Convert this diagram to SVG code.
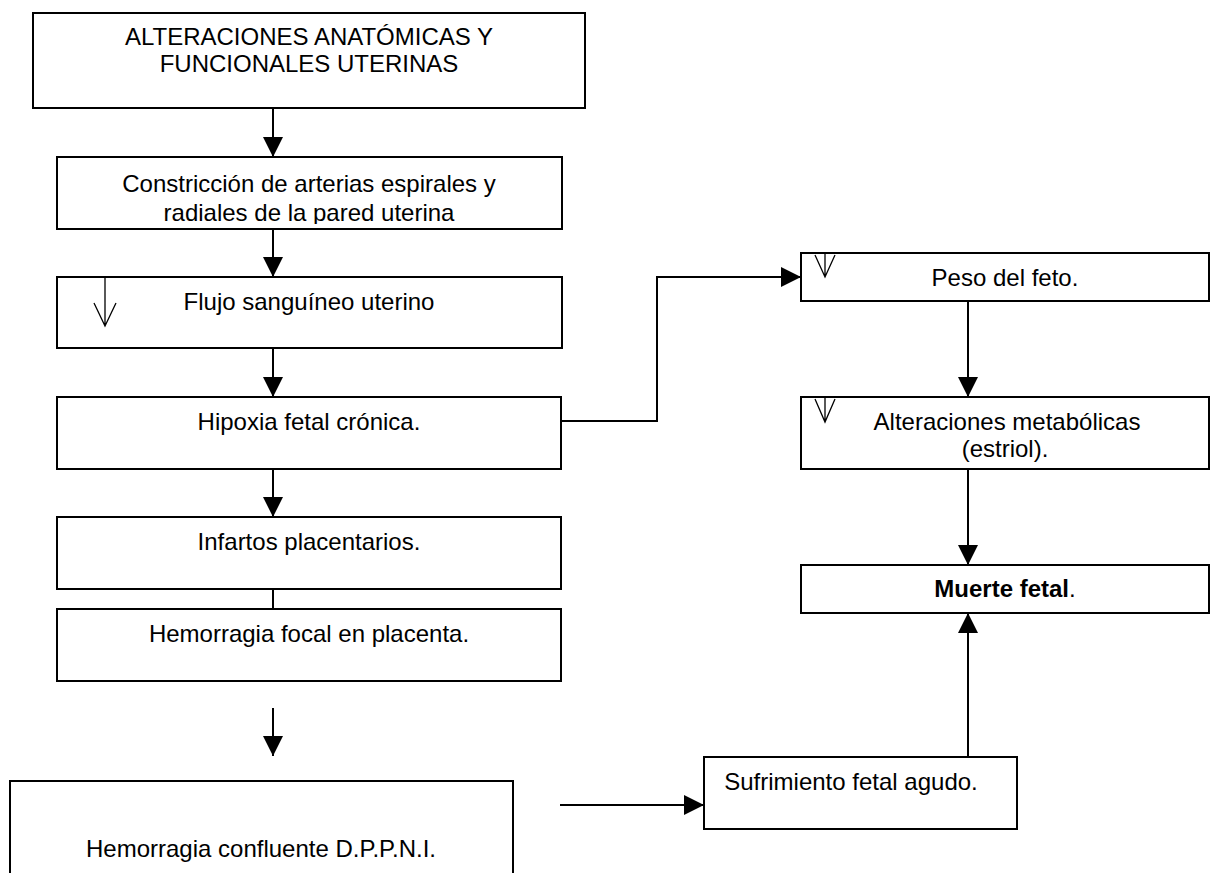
<svg xmlns="http://www.w3.org/2000/svg" width="1210" height="873" viewBox="0 0 1210 873">
  <style>
    .box { fill: #fff; stroke: #000; stroke-width: 2; }
    .ln { fill: none; stroke: #000; stroke-width: 2; }
    .thin { fill: none; stroke: #000; stroke-width: 1.3; }
    text { font-family: "Liberation Sans", Arial, sans-serif; font-size: 24px; fill: #000; text-anchor: middle; }
    .b { font-weight: bold; }
  </style>
  <defs>
    <marker id="ah" viewBox="0 0 20 20" refX="20" refY="10" markerWidth="20" markerHeight="20" markerUnits="userSpaceOnUse" orient="auto">
      <path d="M0,0 L20,10 L0,20 Z" fill="#000"/>
    </marker>
    <!-- the second line of this box is cut off by the box frame -->
    <clipPath id="clipB"><rect x="57" y="157" width="505" height="67"/></clipPath>
  </defs>
  <rect width="1210" height="873" fill="#fff"/>

  <g id="connectors">
    <line class="ln" x1="273" y1="108" x2="273" y2="157" marker-end="url(#ah)"/>
    <line class="ln" x1="273" y1="229" x2="273" y2="277" marker-end="url(#ah)"/>
    <line class="ln" x1="273" y1="348" x2="273" y2="397" marker-end="url(#ah)"/>
    <line class="ln" x1="273" y1="469" x2="273" y2="517" marker-end="url(#ah)"/>
    <line class="ln" x1="273" y1="589" x2="273" y2="609"/>
    <line class="ln" x1="273" y1="708" x2="273" y2="756" marker-end="url(#ah)"/>
    <polyline class="ln" points="561,421 657,421 657,277 801,277" marker-end="url(#ah)"/>
    <line class="ln" x1="968" y1="301" x2="968" y2="397" marker-end="url(#ah)"/>
    <line class="ln" x1="968" y1="469" x2="968" y2="565" marker-end="url(#ah)"/>
    <line class="ln" x1="968" y1="757" x2="968" y2="613" marker-end="url(#ah)"/>
    <line class="ln" x1="560" y1="805" x2="704" y2="805" marker-end="url(#ah)"/>
  </g>

  <g id="alteraciones-anatomicas">
    <rect class="box" x="33" y="13" width="552" height="95"/>
    <text x="309" y="45">ALTERACIONES ANATÓMICAS Y</text>
    <text x="309" y="72">FUNCIONALES UTERINAS</text>
  </g>

  <g id="constriccion">
    <rect class="box" x="57" y="157" width="505" height="72"/>
    <g clip-path="url(#clipB)">
      <text x="309" y="192">Constricción de arterias espirales y</text>
      <text x="309" y="221">radiales de la pared uterina</text>
    </g>
  </g>

  <g id="flujo">
    <rect class="box" x="57" y="277" width="505" height="71"/>
    <text x="309" y="310">Flujo sanguíneo uterino</text>
    <path class="thin" d="M105,277 V326 M94,303 L105,326 L116,303"/>
  </g>

  <g id="hipoxia">
    <rect class="box" x="57" y="397" width="504" height="72"/>
    <text x="309" y="430">Hipoxia fetal crónica.</text>
  </g>

  <g id="infartos">
    <rect class="box" x="57" y="517" width="504" height="72"/>
    <text x="309" y="550">Infartos placentarios.</text>
  </g>

  <g id="hemorragia-focal">
    <rect class="box" x="57" y="609" width="504" height="72"/>
    <text x="309" y="642">Hemorragia focal en placenta.</text>
  </g>

  <g id="hemorragia-confluente">
    <path class="box" d="M10,875 V781 H513 V875"/>
    <text x="261" y="857">Hemorragia confluente D.P.P.N.I.</text>
  </g>

  <g id="peso">
    <rect class="box" x="801" y="253" width="408" height="48"/>
    <text x="1005" y="286">Peso del feto.</text>
    <path class="thin" d="M825,253 V277 M815,255 L825,277 L835,255"/>
  </g>

  <g id="alteraciones-metabolicas">
    <rect class="box" x="801" y="397" width="408" height="72"/>
    <text x="1007" y="430">Alteraciones metabólicas</text>
    <text x="1005" y="457">(estriol).</text>
    <path class="thin" d="M825,397 V422 M815,399 L825,422 L835,399"/>
  </g>

  <g id="muerte-fetal">
    <rect class="box" x="801" y="565" width="408" height="48"/>
    <text x="1005" y="597"><tspan class="b">Muerte fetal</tspan>.</text>
  </g>

  <g id="sufrimiento">
    <rect class="box" x="704" y="757" width="313" height="72"/>
    <text x="851" y="790">Sufrimiento fetal agudo.</text>
  </g>
</svg>
